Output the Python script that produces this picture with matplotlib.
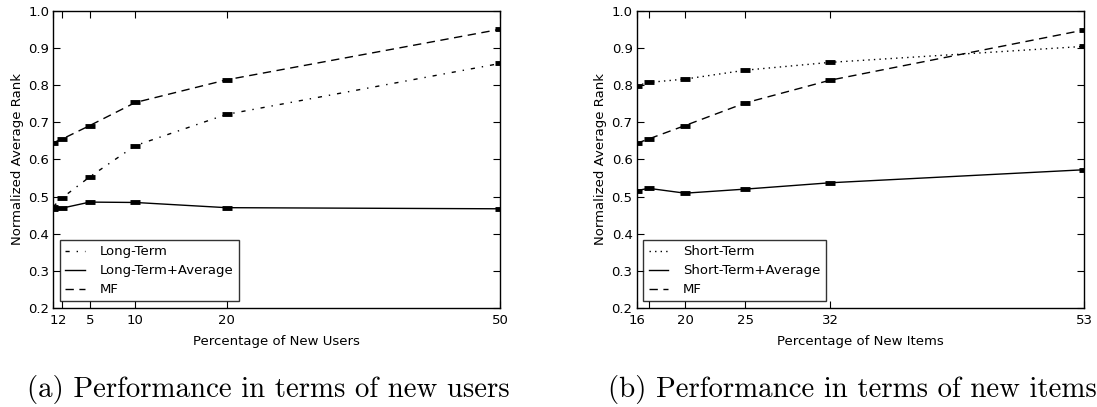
import matplotlib
matplotlib.use("Agg")
import matplotlib.pyplot as plt

plt.rcParams['font.family'] = ['DejaVu Sans']
plt.rcParams['lines.dashed_pattern'] = [6, 4]
plt.rcParams['lines.dashdot_pattern'] = [3, 5, 1, 5]
plt.rcParams['lines.dotted_pattern'] = [1, 3]

# new users experiment
users_pct = [1, 2, 5, 10, 20, 50]
users_ticks = [1, 2, 5, 10, 20, 50]
users_ticklabels = ['1', '2', '5', '10', '20', '50']
lt = [0.473, 0.497, 0.553, 0.637, 0.721, 0.858]
lt_avg = [0.466, 0.469, 0.485, 0.484, 0.470, 0.467]
mf_users = [0.645, 0.655, 0.691, 0.753, 0.814, 0.950]

# new items experiment
items_pct = [16, 17, 20, 25, 32, 53]
items_ticks = [16, 17, 20, 25, 32, 53]
items_ticklabels = ['16', '', '20', '25', '32', '53']
st = [0.798, 0.807, 0.816, 0.840, 0.861, 0.904]
st_avg = [0.516, 0.522, 0.509, 0.520, 0.537, 0.572]
mf_items = [0.643, 0.655, 0.691, 0.752, 0.813, 0.948]

yticks = [0.2, 0.3, 0.4, 0.5, 0.6, 0.7, 0.8, 0.9, 1.0]
fs = 9.5

fig = plt.figure(figsize=(10.97, 4.07), dpi=100)
ax1 = fig.add_axes([0.0486, 0.2432, 0.4072, 0.7305])
ax2 = fig.add_axes([0.5804, 0.2432, 0.4077, 0.7305])


def curve(ax, x, y, ls, label):
    # line carries the legend entry, the flat bars sit on top unlabelled
    ax.plot(x, y, color='k', lw=1.0, ls=ls, label=label)
    ax.plot(x, y, color='k', ls='none', marker='_', ms=7, mew=3.5, zorder=3)


curve(ax1, users_pct, lt, '-.', 'Long-Term')
curve(ax1, users_pct, lt_avg, '-', 'Long-Term+Average')
curve(ax1, users_pct, mf_users, '--', 'MF')
ax1.set_xlim(1, 50)
ax1.set_xticks(users_ticks)
ax1.set_xticklabels(users_ticklabels)
ax1.set_xlabel('Percentage of New Users', fontsize=fs, labelpad=6)

curve(ax2, items_pct, st, ':', 'Short-Term')
curve(ax2, items_pct, st_avg, '-', 'Short-Term+Average')
curve(ax2, items_pct, mf_items, '--', 'MF')
ax2.set_xlim(16, 53)
ax2.set_xticks(items_ticks)
ax2.set_xticklabels(items_ticklabels)
ax2.set_xlabel('Percentage of New Items', fontsize=fs, labelpad=6)

for ax in (ax1, ax2):
    ax.set_ylim(0.2, 1.0)
    ax.set_yticks(yticks)
    ax.set_yticklabels(['%.1f' % v for v in yticks])
    ax.set_ylabel('Normalized Average Rank', fontsize=fs, labelpad=3)
    ax.tick_params(direction='in', top=True, right=True, length=5,
                   width=0.8, labelsize=fs)
    ax.tick_params(axis='x', pad=4)
    ax.tick_params(axis='y', pad=3)
    for s in ax.spines.values():
        s.set_linewidth(1.0)
    leg = ax.legend(loc='lower left', fontsize=fs, fancybox=False,
                    handlelength=1.5, handletextpad=1.1, labelspacing=0.45,
                    borderaxespad=0.5, borderpad=0.4)
    leg.get_frame().set_edgecolor('k')
    leg.get_frame().set_linewidth(1.0)

fig.text(27 / 1097, 1 - 397 / 407, '(a) Performance in terms of new users',
         fontfamily='cmr10', fontsize=20.8, va='baseline', ha='left')
fig.text(608 / 1097, 1 - 397 / 407, '(b) Performance in terms of new items',
         fontfamily='cmr10', fontsize=20.8, va='baseline', ha='left')

fig.savefig('out.png', dpi=100)
